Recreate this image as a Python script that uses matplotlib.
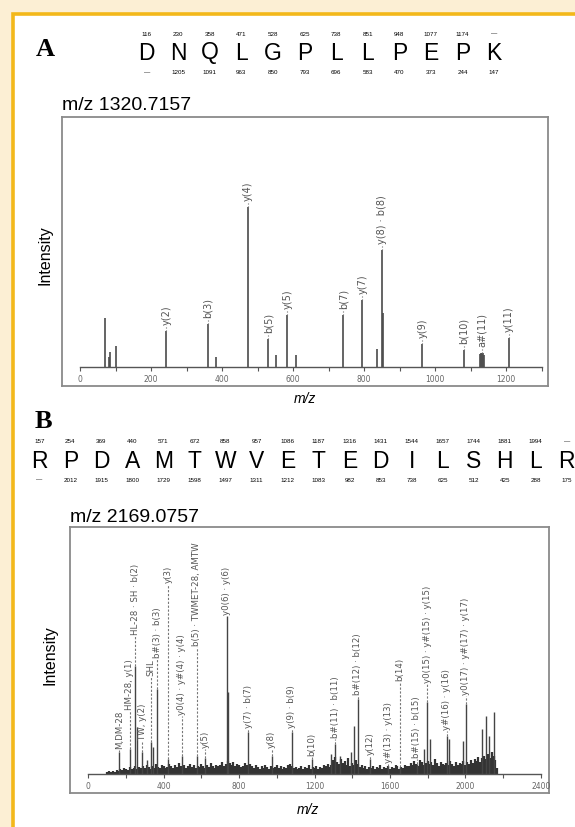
import numpy as np
import matplotlib.pyplot as plt
from matplotlib.patches import Rectangle
from matplotlib.ticker import MultipleLocator

#%% Datos

# secuencia A
seqA = list("DNQLGPLLPEPK")
bA = ["116", "230", "358", "471", "528", "625", "738", "851", "948", "1077", "1174", "—"]
yA = ["—", "1205", "1091", "963", "850", "793", "696", "583", "470", "373", "244", "147"]

# espectro A (m/z, intensidad relativa)
mzA = [69, 83, 85, 102, 243, 359, 383, 473, 530, 551, 584, 609, 741, 795, 837, 851, 853,
       964, 1081, 1125, 1128, 1131, 1134, 1137, 1208]
intA = [49, 10, 15, 21, 36, 43, 10, 160, 28, 12, 52, 12, 52, 67, 18, 117, 54,
        23, 17, 13, 14, 14, 14, 12, 29]
labA_mz = [243, 359, 473, 530, 584, 741, 795, 851, 964, 1081, 1131, 1208]
labA_h = [36, 43, 160, 28, 52, 52, 67, 117, 23, 17, 14, 29]
labA_txt = ["y(2)", "b(3)", "y(4)", "b(5)", "y(5)", "b(7)", "y(7)", "y(8) · b(8)",
            "y(9)", "b(10)", "a#(11)", "y(11)"]

# secuencia B
seqB = list("RPDAMTWVETEDILSHLR")
bB = ["157", "254", "369", "440", "571", "672", "858", "957", "1086", "1187", "1316",
      "1431", "1544", "1657", "1744", "1881", "1994", "—"]
yB = ["—", "2012", "1915", "1800", "1729", "1598", "1497", "1311", "1212", "1083", "982",
      "853", "738", "625", "512", "425", "288", "175"]

# espectro B: ruido de fondo cada 10 m/z desde 100
grass_start, grass_step = 100, 10
grassB = [2, 3, 2, 3, 2, 4, 3, 5, 4, 6, 5, 4, 7, 5, 6, 8, 5, 7, 6, 8,
          6, 9, 7, 5, 8, 6, 10, 7, 6, 9, 8, 6, 7, 10, 8, 6, 9, 7, 11, 8,
          7, 9, 6, 8, 10, 7, 9, 6, 8, 7, 10, 8, 6, 9, 7, 11, 8, 6, 9, 8,
          9, 12, 8, 10, 13, 11, 9, 12, 8, 10, 9, 7, 8, 11, 9, 7, 10, 8, 6, 9,
          7, 5, 8, 6, 9, 7, 5, 8, 6, 7, 9, 6, 8, 5, 7, 6, 9, 10, 8, 6,
          7, 5, 6, 8, 5, 7, 6, 9, 5, 7, 6, 8, 5, 7, 6, 9, 8, 10, 7, 9,
          14, 17, 12, 10, 15, 11, 13, 9, 16, 8, 11, 9, 14, 10, 7, 9, 6, 8, 5, 7,
          6, 8, 5, 7, 6, 9, 5, 7, 6, 8, 5, 7, 6, 9, 8, 5, 7, 6, 9, 8,
          8, 11, 9, 13, 10, 8, 14, 12, 9, 11, 13, 10, 12, 9, 15, 11, 8, 12, 10, 9,
          11, 9, 13, 10, 8, 12, 9, 11, 10, 13, 9, 12, 10, 14, 11, 15, 13, 17, 12, 16,
          18, 15, 20, 16, 22, 18, 14, 6]

mzB = [165, 221, 248, 257, 287, 310, 331, 342, 366, 424, 495, 575, 619, 734, 743, 849,
       973, 1079, 1185, 1290, 1309, 1335, 1395, 1411, 1429, 1494, 1592, 1654, 1742, 1780,
       1798, 1812, 1901, 1915, 1990, 2003, 2087, 2110, 2127, 2152]
intB = [22, 25, 108, 47, 22, 14, 32, 27, 85, 15, 18, 18, 16, 158, 82, 42,
        18, 42, 15, 20, 30, 18, 22, 48, 75, 15, 8, 7, 10, 25,
        72, 35, 38, 35, 33, 70, 45, 58, 38, 62]

labB_mz = [165, 221, 248, 287, 331, 366, 424, 495, 575, 619, 734, 849, 973, 1079, 1185,
           1309, 1429, 1494, 1592, 1654, 1742, 1798, 1901, 2003]
labB_h = [22, 25, 108, 22, 32, 85, 15, 18, 18, 16, 158, 42, 18, 42, 15,
          30, 75, 15, 8, 7, 10, 72, 38, 70]
labB_y = [24, 63, 138, 33, 97, 115, 190, 58, 127, 25, 158, 45, 25, 45, 17,
          35, 78, 18, 10, 92, 15, 90, 43, 78]
labB_txt = ["M,DM-28", "HM-28, y(1)", "HL-28 · SH · b(2)", "TW, y(2)", "SHL",
            "b#(3) · b(3)", "y(3)", "y0(4) · y#(4) · y(4)", "b(5) · TWMET-28, AMTW",
            "y(5)", "y0(6) · y(6)", "y(7) · b(7)", "y(8)", "y(9) · b(9)", "b(10)",
            "b#(11) · b(11)", "b#(12) · b(12)", "y(12)", "y#(13) · y(13)", "b(14)",
            "b#(15) · b(15)", "y0(15) · y#(15) · y(15)", "y#(16) · y(16)",
            "y0(17) · y#(17) · y(17)"]

#%% Figura

W, H = 575, 827

def box(x0, y0, x1, y1):
    return [x0 / W, 1 - y1 / H, (x1 - x0) / W, (y1 - y0) / H]

def fx(x):
    return x / W

def fy(y):
    return 1 - y / H

fig = plt.figure(figsize=(W / 100, H / 100), dpi=100)
fig.patch.set_facecolor('#FCEFD4')
fig.patches.append(Rectangle((fx(13), -0.02), 1.1, fy(14) + 0.02, transform=fig.transFigure,
                             facecolor='white', edgecolor='#F3B81A', lw=2.6, zorder=-5))

sans = 'Liberation Sans'

def sequence(seq, top, bot, x0, x1, yt, yl, yb):
    xs = np.linspace(x0, x1, len(seq))
    for x, s, t, b in zip(xs, seq, top, bot):
        fig.text(fx(x), fy(yl), s, ha='center', va='center', fontsize=16.5, family=sans)
        fig.text(fx(x), fy(yt), t, ha='center', va='center', fontsize=4.5, family=sans)
        fig.text(fx(x), fy(yb), b, ha='center', va='center', fontsize=4.5, family=sans)

def frame(rect):
    a = fig.add_axes(rect)
    a.set_xticks([])
    a.set_yticks([])
    for s in a.spines.values():
        s.set_color('#8a8a8a')
        s.set_linewidth(1.3)
    return a

def inner(rect, xmax, ymax, major, minor):
    a = fig.add_axes(rect)
    a.patch.set_alpha(0)
    a.set_xlim(0, xmax)
    a.set_ylim(0, ymax)
    for s in ['left', 'right', 'top']:
        a.spines[s].set_visible(False)
    a.spines['bottom'].set_color('#555555')
    a.spines['bottom'].set_linewidth(1.0)
    a.set_yticks([])
    a.xaxis.set_major_locator(MultipleLocator(major))
    a.xaxis.set_minor_locator(MultipleLocator(minor))
    a.tick_params(axis='x', which='both', direction='out', length=3, width=0.8,
                  colors='#555555', labelsize=5.5, labelcolor='#666666', pad=2.5)
    return a

# Panel A
fig.text(fx(45), fy(50), "A", ha='center', va='center', fontsize=19, fontweight='bold',
         family='Liberation Serif')
sequence(seqA, bA, yA, 146.7, 494, 34, 53, 73)
fig.text(fx(62), fy(105), "m/z 1320.7157", ha='left', va='center', fontsize=14, family=sans)
fig.text(fx(45), fy(255), "Intensity", ha='center', va='center', rotation=90, fontsize=11.5,
         family=sans)
fig.text(fx(305), fy(399), "m/z", ha='center', va='center', fontsize=10, style='italic',
         family=sans)

frame(box(62, 117, 548, 386))
axA = inner(box(80, 117, 541.7, 367), 1300, 250, 200, 100)
axA.vlines(mzA, 0, intA, colors='#4a4a4a', lw=1.2)
for m, h, t in zip(labA_mz, labA_h, labA_txt):
    axA.plot([m, m], [h, h + 6], ls=':', color='#777777', lw=0.8)
    axA.text(m, h + 6, t, rotation=90, ha='center', va='bottom', fontsize=7, color='#555555')

# Panel B
fig.text(fx(43), fy(422), "B", ha='center', va='center', fontsize=19, fontweight='bold',
         family='Liberation Serif')
sequence(seqB, bB, yB, 39.3, 566.7, 441.7, 461.7, 480)
fig.text(fx(70), fy(518), "m/z 2169.0757", ha='left', va='center', fontsize=14, family=sans)
fig.text(fx(50), fy(655), "Intensity", ha='center', va='center', rotation=90, fontsize=11.5,
         family=sans)
fig.text(fx(308), fy(810), "m/z", ha='center', va='center', fontsize=10, style='italic',
         family=sans)

frame(box(70, 527, 549, 793))
axB = inner(box(88.3, 527, 540.7, 774), 2400, 247, 400, 200)
grass_mz = grass_start + grass_step * np.arange(len(grassB))
axB.vlines(grass_mz, 0, grassB, colors='#333333', lw=1.6)
axB.vlines(mzB, 0, intB, colors='#444444', lw=1.0)
for m, h, ly, t in zip(labB_mz, labB_h, labB_y, labB_txt):
    if ly > h:
        axB.plot([m, m], [h, ly], ls=(0, (2, 1.5)), color='#777777', lw=0.8)
    axB.text(m, ly + 1, t, rotation=90, ha='center', va='bottom', fontsize=6.2, color='#555555')

fig.savefig("out.png", dpi=100, facecolor=fig.get_facecolor())
